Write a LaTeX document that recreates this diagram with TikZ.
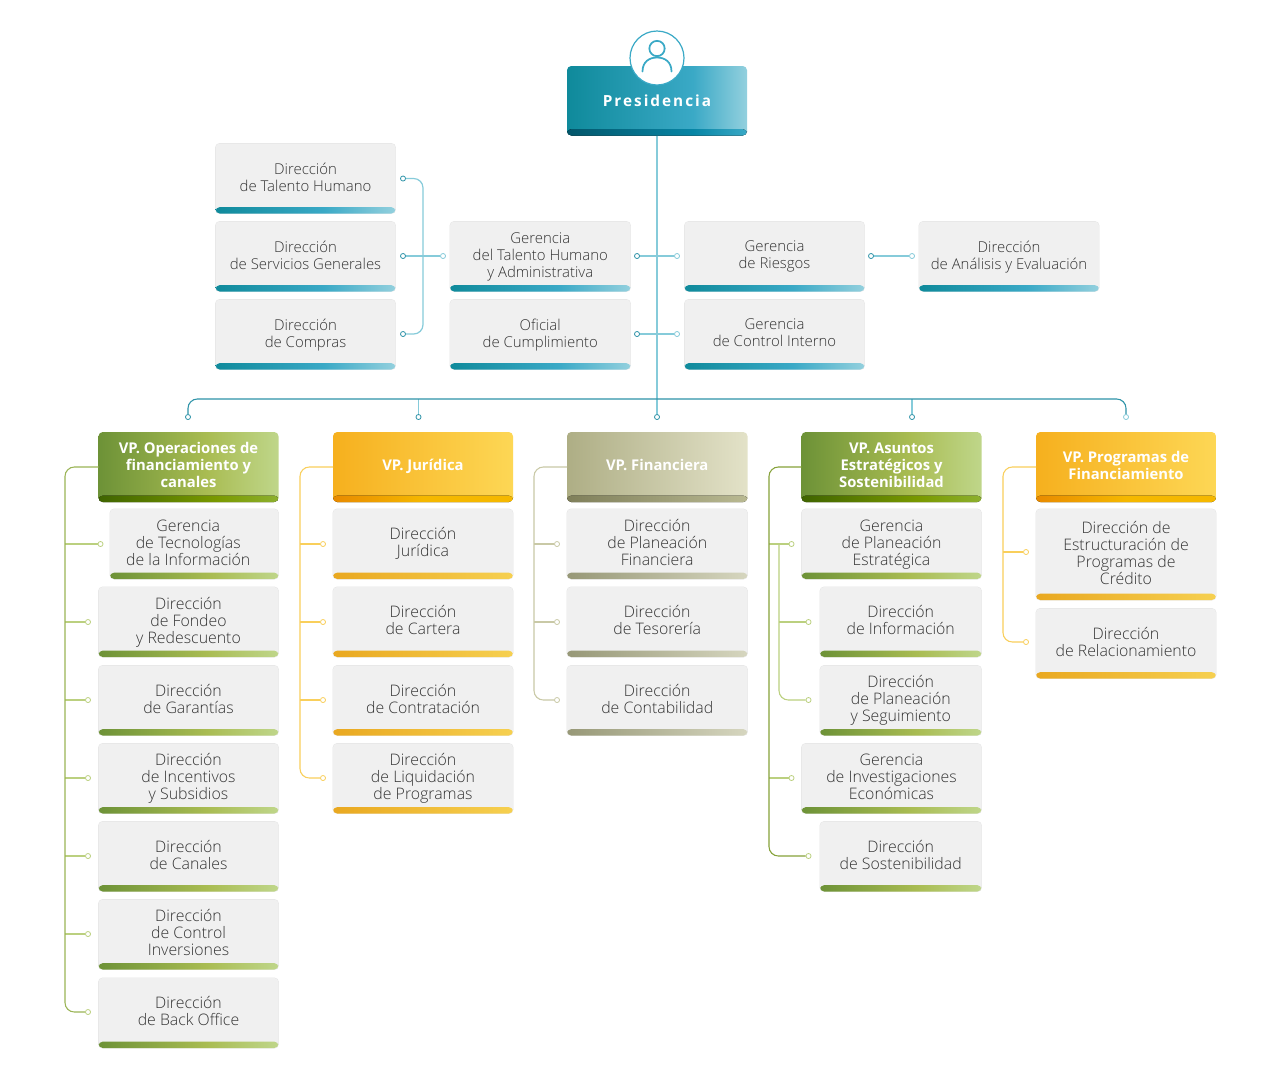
\documentclass[tikz,border=0pt]{standalone}
\usepackage{fontspec}
\setmainfont{Open Sans Light}
\newfontfamily\vpfont{Open Sans}
\newfontfamily\presfont{Open Sans}[LetterSpace=13]
\definecolor{txtc}{HTML}{333333}
\definecolor{cteal}{HTML}{2E93A8}
\definecolor{ltteal}{HTML}{86CBDA}
\definecolor{cgreen}{HTML}{9AB455}
\definecolor{dkgreen}{HTML}{86A23A}
\definecolor{ltgreen}{HTML}{BBD07F}
\definecolor{corange}{HTML}{F9CF5B}
\definecolor{ctan}{HTML}{C9C9A6}
\definecolor{teal0}{HTML}{0F8A9B}\definecolor{teal1}{HTML}{3AA9C6}\definecolor{teal2}{HTML}{93D0DE}
\definecolor{teald}{HTML}{03566A}\definecolor{tealm}{HTML}{0785A5}
\definecolor{grn0}{HTML}{6D9237}\definecolor{grn1}{HTML}{A9BC52}\definecolor{grn2}{HTML}{BFD68A}
\definecolor{grnd}{HTML}{3F6400}\definecolor{grnm}{HTML}{7A9A00}\definecolor{grne}{HTML}{8DB02F}
\definecolor{org0}{HTML}{F6B01E}\definecolor{org1}{HTML}{FDD755}
\definecolor{orgd}{HTML}{E88A00}\definecolor{orgm}{HTML}{F5B800}
\definecolor{orb0}{HTML}{E9A820}\definecolor{orb1}{HTML}{F6D050}
\definecolor{tan0}{HTML}{AEAE85}\definecolor{tan1}{HTML}{E3E2C8}
\definecolor{tand}{HTML}{7F7F5A}\definecolor{tanm}{HTML}{B9B992}
\definecolor{tab0}{HTML}{979877}\definecolor{tab1}{HTML}{D6D6BF}
\pgfdeclarehorizontalshading{presfill}{100bp}{color(0bp)=(teal0);color(25bp)=(teal0);color(60bp)=(teal1);color(75bp)=(teal2);color(100bp)=(teal2)}
\pgfdeclarehorizontalshading{presbar}{100bp}{color(0bp)=(teald);color(25bp)=(teald);color(60bp)=(tealm);color(75bp)=(teal1);color(100bp)=(teal1)}
\pgfdeclarehorizontalshading{tealbar}{100bp}{color(0bp)=(teal0);color(25bp)=(teal0);color(55bp)=(teal1);color(75bp)=(teal2);color(100bp)=(teal2)}
\pgfdeclarehorizontalshading{grnfill}{100bp}{color(0bp)=(grn0);color(25bp)=(grn0);color(55bp)=(grn1);color(75bp)=(grn2);color(100bp)=(grn2)}
\pgfdeclarehorizontalshading{grnvbar}{100bp}{color(0bp)=(grnd);color(25bp)=(grnd);color(58bp)=(grnm);color(75bp)=(grne);color(100bp)=(grne)}
\pgfdeclarehorizontalshading{orgfill}{100bp}{color(0bp)=(org0);color(25bp)=(org0);color(75bp)=(org1);color(100bp)=(org1)}
\pgfdeclarehorizontalshading{orgvbar}{100bp}{color(0bp)=(orgd);color(25bp)=(orgd);color(50bp)=(orgm);color(100bp)=(orgm)}
\pgfdeclarehorizontalshading{orgbar}{100bp}{color(0bp)=(orb0);color(25bp)=(orb0);color(75bp)=(orb1);color(100bp)=(orb1)}
\pgfdeclarehorizontalshading{tanfill}{100bp}{color(0bp)=(tan0);color(25bp)=(tan0);color(75bp)=(tan1);color(100bp)=(tan1)}
\pgfdeclarehorizontalshading{tanvbar}{100bp}{color(0bp)=(tand);color(25bp)=(tand);color(75bp)=(tanm);color(100bp)=(tanm)}
\pgfdeclarehorizontalshading{tanbar}{100bp}{color(0bp)=(tab0);color(25bp)=(tab0);color(75bp)=(tab1);color(100bp)=(tab1)}
\newcommand\lnstrut{\vphantom{Ag}}
\newcommand\txtfs{11.2}
\tikzset{
  x=0.75pt,y=-0.75pt,
  boxshape/.style={rectangle,rounded corners=3.2pt,inner sep=0pt,outer sep=0pt},
  greybox/.style={boxshape,fill=black!6,preaction={draw=black!10,line width=0.7pt}},
  txt/.style={align=center,text=txtc,font=\fontsize{\txtfs}{12.75}\selectfont,inner sep=0pt,
    execute at begin node=\lnstrut,execute at end node=\lnstrut},
  vptxt/.style={align=center,text=white,font=\fontsize{11.1}{12.75}\selectfont\vpfont\bfseries,inner sep=0pt,
    execute at begin node=\lnstrut,execute at end node=\lnstrut},
  tdot/.style={circle,draw=cteal,fill=white,line width=0.6pt,minimum size=3.8pt,inner sep=0pt},
  ldot/.style={tdot,draw=ltteal},
  gdot/.style={tdot,draw=ltgreen},
  odot/.style={tdot,draw=corange},
  ndot/.style={tdot,draw=ctan},
  tline/.style={draw=ltteal,line width=0.9pt},
  hline/.style={draw=cteal,line width=0.8pt,rounded corners=7pt},
  gline/.style={draw=cgreen,line width=0.8pt,rounded corners=7pt},
  gdline/.style={draw=dkgreen,line width=0.8pt,rounded corners=7pt},
  gbr/.style={draw=ltgreen,line width=0.8pt,rounded corners=7pt},
  oline/.style={draw=corange,line width=0.8pt,rounded corners=7pt},
  nline/.style={draw=ctan,line width=0.8pt,rounded corners=7pt},
}
% [text x offset]{name}{x0}{y0}{x1}{y1}{bar}{text}
\newcommand\bx[8][0]{%
  \pgfmathsetmacro\cxx{(#3+#5)/2}\pgfmathsetmacro\cyy{(#4+#6)/2}%
  \pgfmathsetmacro\wdd{(#5-#3)*0.75}\pgfmathsetmacro\htt{(#6-#4)*0.75}%
  \node[greybox,minimum width=\wdd pt,minimum height=\htt pt,
    path picture={\fill[shading=#7] ([yshift=4.8pt]path picture bounding box.south west) rectangle (path picture bounding box.south east);}]
    (#2) at (\cxx,\cyy) {};
  \node[txt] (#2-t) at (\cxx+#1,\cyy+0.3) {#8};}
% {name}{x0}{y0}{x1}{y1}{fill}{bar}{text}
\newcommand\vp[8]{%
  \pgfmathsetmacro\cxx{(#2+#4)/2}\pgfmathsetmacro\cyy{(#3+#5)/2}%
  \pgfmathsetmacro\wdd{(#4-#2)*0.75}\pgfmathsetmacro\htt{(#5-#3)*0.75}%
  \node[boxshape,shading=#6,minimum width=\wdd pt,minimum height=\htt pt,
    path picture={\fill[shading=#7] ([yshift=4.8pt]path picture bounding box.south west) rectangle (path picture bounding box.south east);}]
    (#1) at (\cxx,\cyy) {};
  \node[vptxt] (#1-t) at (\cxx,\cyy-0.2) {#8};}
\begin{document}
\begin{tikzpicture}
\useasboundingbox (0,0) rectangle (1280,1090);
\fill[white] (0,0) rectangle (1280,1090);
% Presidencia
\vp{pres}{567}{66}{747}{135.5}{presfill}{presbar}{}
\node[text=white,inner sep=0pt,font=\fontsize{11.5}{12}\presfont\bfseries] (pres-l) at (657,100.5) {Presidencia};
\node[circle,fill=white,draw=teal1,line width=0.9pt,minimum size=40.5pt,inner sep=0pt] (icon) at (657,58) {};
\node[circle,draw=teal1,line width=1.3pt,minimum size=11.5pt,inner sep=0pt] (head) at (657,48.5) {};
\draw[teal1,line width=1.3pt,line cap=round] (642.5,71.5) .. controls (642.5,62) and (649,57.5) .. (657,57.5) .. controls (665,57.5) and (671.5,62) .. (671.5,71.5);
% top boxes
\bx{b1}{215.5}{143.5}{395.5}{213.5}{tealbar}{Dirección\\de Talento Humano}
\bx{b2}{215.5}{221.5}{395.5}{291.5}{tealbar}{Dirección\\de Servicios Generales}
\bx{b3}{215.5}{299.5}{395.5}{369.5}{tealbar}{Dirección\\de Compras}
\bx{c1}{450}{221.5}{630.5}{291.5}{tealbar}{Gerencia\\del Talento Humano\\y Administrativa}
\bx{c2}{450}{299.5}{630.5}{369.5}{tealbar}{Oficial\\de Cumplimiento}
\bx{e1}{684.5}{221.5}{864.5}{291.5}{tealbar}{Gerencia\\de Riesgos}
\bx{e2}{684.5}{299.5}{864.5}{369.5}{tealbar}{Gerencia\\de Control Interno}
\bx{f1}{919}{221.5}{1099}{291.5}{tealbar}{Dirección\\de Análisis y Evaluación}
% VPs
\vp{v1}{98.5}{432}{278.5}{502}{grnfill}{grnvbar}{VP. Operaciones de\\financiamiento y\\canales}
\vp{v2}{333}{432}{513}{502}{orgfill}{orgvbar}{VP. Jurídica}
\vp{v3}{567}{432}{747.5}{502}{tanfill}{tanvbar}{VP. Financiera}
\vp{v4}{801.5}{432}{981.5}{502}{grnfill}{grnvbar}{VP. Asuntos\\Estratégicos y\\Sostenibilidad}
\vp{v5}{1036}{432}{1216}{502}{orgfill}{orgvbar}{VP. Programas de\\Financiamiento}
\renewcommand\txtfs{11.9}
% column 1
\bx[-6]{p1}{110}{509}{278.5}{579}{grnfill}{Gerencia\\de Tecnologías\\de la Información}
\bx{p2}{98.5}{587}{278.5}{657}{grnfill}{Dirección\\de Fondeo\\y Redescuento}
\bx{p3}{98.5}{665.5}{278.5}{735.5}{grnfill}{Dirección\\de Garantías}
\bx{p4}{98.5}{743.5}{278.5}{813.5}{grnfill}{Dirección\\de Incentivos\\y Subsidios}
\bx{p5}{98.5}{821.5}{278.5}{891.5}{grnfill}{Dirección\\de Canales}
\bx{p6}{98.5}{899.5}{278.5}{969.5}{grnfill}{Dirección\\de Control\\Inversiones}
\bx{p7}{98.5}{978}{278.5}{1048}{grnfill}{Dirección\\de Back Office}
% column 2
\bx{q1}{333}{509}{513}{579}{orgbar}{Dirección\\Jurídica}
\bx{q2}{333}{587}{513}{657}{orgbar}{Dirección\\de Cartera}
\bx{q3}{333}{665.5}{513}{735.5}{orgbar}{Dirección\\de Contratación}
\bx{q4}{333}{743.5}{513}{813.5}{orgbar}{Dirección\\de Liquidación\\de Programas}
% column 3
\bx{r1}{567}{509}{747.5}{579}{tanbar}{Dirección\\de Planeación\\Financiera}
\bx{r2}{567}{587}{747.5}{657}{tanbar}{Dirección\\de Tesorería}
\bx{r3}{567}{665.5}{747.5}{735.5}{tanbar}{Dirección\\de Contabilidad}
% column 4
\bx{s1}{801.5}{509}{981.5}{579}{grnfill}{Gerencia\\de Planeación\\Estratégica}
\bx{s2}{820}{587}{981.5}{657}{grnfill}{Dirección\\de Información}
\bx{s3}{820}{665.5}{981.5}{735.5}{grnfill}{Dirección\\de Planeación\\y Seguimiento}
\bx{s4}{801.5}{743.5}{981.5}{813.5}{grnfill}{Gerencia\\de Investigaciones\\Económicas}
\bx{s5}{820}{821.5}{981.5}{891.5}{grnfill}{Dirección\\de Sostenibilidad}
% column 5
\bx{u1}{1036}{509}{1216}{600}{orgbar}{Dirección de\\Estructuración de\\Programas de\\Crédito}
\bx{u2}{1036}{608.5}{1216}{678.5}{orgbar}{Dirección\\de Relacionamiento}
% dots
\node[tdot] (a1) at (403,178.5) {};
\node[tdot] (a2) at (403,256) {};
\node[tdot] (a3) at (403,334) {};
\node[ldot] (a4) at (443,256) {};
\node[tdot] (m1) at (637,256) {};
\node[ldot] (m2) at (677,256) {};
\node[tdot] (m3) at (637,334) {};
\node[ldot] (m4) at (677,334) {};
\node[tdot] (n1) at (871,256) {};
\node[ldot] (n2) at (912,256) {};
\node[tdot] (h1) at (188,417) {};
\node[tdot] (h2) at (418.5,417) {};
\node[tdot] (h3) at (657,417) {};
\node[tdot] (h4) at (912,417) {};
\node[ldot] (h5) at (1126,417) {};
\coordinate (hl) at (188,399);
\coordinate (hr) at (1126,399);
\node[gdot] (dp1) at (100.5,544) {};
\foreach \n/\y in {2/622,3/700,4/778,5/856,6/934,7/1012}{\node[gdot] (dp\n) at (88,\y) {};}
\foreach \n/\y in {1/544,2/622,3/700,4/778}{\node[odot] (dq\n) at (323,\y) {};}
\foreach \n/\y in {1/544,2/622,3/700}{\node[ndot] (dr\n) at (557,\y) {};}
\node[gdot] (ds1) at (791.5,544) {};
\node[gdot] (ds2) at (808.5,622) {};
\node[gdot] (ds3) at (808.5,700) {};
\node[gdot] (ds4) at (791.5,778) {};
\node[gdot] (ds5) at (808.5,856) {};
\node[odot] (du1) at (1026,552) {};
\node[odot] (du2) at (1026,642) {};
\coordinate (tp) at (65,467);
\coordinate (tq) at (300,467);
\coordinate (tr) at (534,467);
\coordinate (ts) at (769,467);
\coordinate (tu) at (1003,467);
\coordinate (ti) at (779,544);
\coordinate (tb) at (423,178.5);
% connectors
\draw[tline] (pres.south) -- (h3.north);
\draw[tline] (h2.north) -- (h2.north |- hl);
\draw[tline] (h4.north) -- (h4.north |- hl);
\draw[hline] (h1.north) -- (hl) -- (hr) -- (h5.north);
\draw[tline,rounded corners=7pt] (a1.east) -- (tb) -- (tb |- a3) -- (a3.east);
\draw[tline] (a2.east) -- (a4.west);
\draw[tline] (m1.east) -- (m2.west);
\draw[tline] (m3.east) -- (m4.west);
\draw[tline] (n1.east) -- (n2.west);
\foreach \n in {1,...,6}{\draw[gbr] (tp |- dp\n) -- (dp\n.west);}
\draw[gline] (v1.west) -- (tp) -- (tp |- dp7) -- (dp7.west);
\draw[oline] (v2.west) -- (tq) -- (tq |- dq4) -- (dq4.west);
\foreach \n in {1,2,3}{\draw[oline] (tq |- dq\n) -- (dq\n.west);}
\draw[nline] (v3.west) -- (tr) -- (tr |- dr3) -- (dr3.west);
\foreach \n in {1,2}{\draw[nline] (tr |- dr\n) -- (dr\n.west);}
\draw[gbr] (ts |- ds1) -- (ds1.west);
\draw[gbr] (ts |- ds4) -- (ds4.west);
\draw[gdline] (v4.west) -- (ts) -- (ts |- ds5) -- (ds5.west);
\draw[gbr] (ti) -- (ti |- ds3) -- (ds3.west);
\draw[gbr] (ti |- ds2) -- (ds2.west);
\draw[oline] (v5.west) -- (tu) -- (tu |- du2) -- (du2.west);
\draw[oline] (tu |- du1) -- (du1.west);
\end{tikzpicture}
\end{document}
